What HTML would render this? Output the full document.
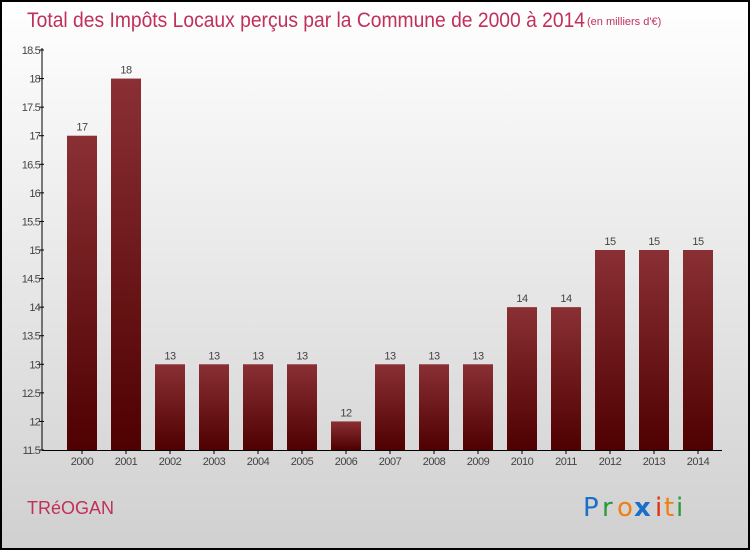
<!DOCTYPE html>
<html><head><meta charset="utf-8"><style>
body{margin:0;}
svg{display:block;font-family:"Liberation Sans",sans-serif;}
</style></head><body>
<svg width="750" height="550" viewBox="0 0 750 550">
<defs>
<linearGradient id="bg" x1="0" y1="0" x2="0" y2="1"><stop offset="0" stop-color="#ffffff"/><stop offset="1" stop-color="#d0d0d0"/></linearGradient>
<linearGradient id="bar" x1="0" y1="0" x2="0" y2="1"><stop offset="0" stop-color="#8a3034"/><stop offset="1" stop-color="#4f0000"/></linearGradient>
</defs>
<rect x="1" y="1" width="748" height="548" fill="url(#bg)" stroke="#000" stroke-width="2"/>
<text x="27" y="27" font-size="21" fill="#c0305a" textLength="558" lengthAdjust="spacingAndGlyphs">Total des Impôts Locaux perçus par la Commune de 2000 à 2014</text>
<text x="587" y="25" font-size="11" fill="#c0305a">(en milliers d'€)</text>
<g id="axes"></g>
<g id="bars"></g>
<text x="27" y="514" font-size="18" fill="#c0305a">TRéOGAN</text>
<g font-size="26" font-family="'DejaVu Sans',sans-serif">
<text x="583" y="516" fill="#1a70c8">P</text><text x="602" y="516" fill="#2a9a3a">r</text><text x="617" y="516" fill="#f08010">o</text><text x="634" y="516" fill="#1a70c8" font-weight="bold">x</text><text x="655" y="516" fill="#e03010">i</text><text x="664" y="516" fill="#f08010">t</text><text x="676" y="516" fill="#2a9a3a">i</text>
</g>
</svg>
<script>
const years=["2000","2001","2002","2003","2004","2005","2006","2007","2008","2009","2010","2011","2012","2013","2014"];
const values=[17,18,13,13,13,13,12,13,13,13,14,14,15,15,15];
const valueLabels=["17","18","13","13","13","13","12","13","13","13","14","14","15","15","15"];
const yTicks=[11.5,12,12.5,13,13.5,14,14.5,15,15.5,16,16.5,17,17.5,18,18.5];
const NS="http://www.w3.org/2000/svg";
const y0=450,y1=50,vmin=11.5,vmax=18.5;
function yScale(v){return y0-(v-vmin)/(vmax-vmin)*(y0-y1);}
function xScale(i){return 82+i*44;}
function mk(tag,attrs,parent,txt){const e=document.createElementNS(NS,tag);for(const k in attrs)e.setAttribute(k,attrs[k]);if(txt!==undefined)e.textContent=txt;parent.appendChild(e);return e;}
const axes=document.getElementById('axes'),bars=document.getElementById('bars');
let l=mk('line',{x1:42,y1:y1-2,x2:42,y2:y0,stroke:'#000'},axes);


l=mk('line',{x1:42,y1:y0+0.5,x2:722,y2:y0+0.5,stroke:'#000'},axes);


yTicks.forEach(t=>{const y=yScale(t);
 mk('line',{x1:39,y1:y,x2:44,y2:y,stroke:'#000'},axes);
 const tx=mk('text',{x:40,y:y+4,'font-size':11,fill:'#444','text-anchor':'end','letter-spacing':'-0.8'},axes,String(t));
 
 
});
years.forEach((yr,i)=>{const cx=xScale(i),top=yScale(values[i]);
 const r=mk('rect',{x:cx-15,y:top,width:30,height:y0-top,fill:'url(#bar)'},bars);
 
 
 const v=mk('text',{x:cx,y:top-5,'font-size':11,fill:'#444','text-anchor':'middle','letter-spacing':'-0.5'},bars,valueLabels[i]);
 
 
 mk('line',{x1:cx,y1:y0,x2:cx,y2:y0+4,stroke:'#000'},axes);
 const xl=mk('text',{x:cx,y:y0+15,'font-size':11,fill:'#444','text-anchor':'middle','letter-spacing':'-0.5'},axes,yr);
 
 
});
</script>
</body></html>
